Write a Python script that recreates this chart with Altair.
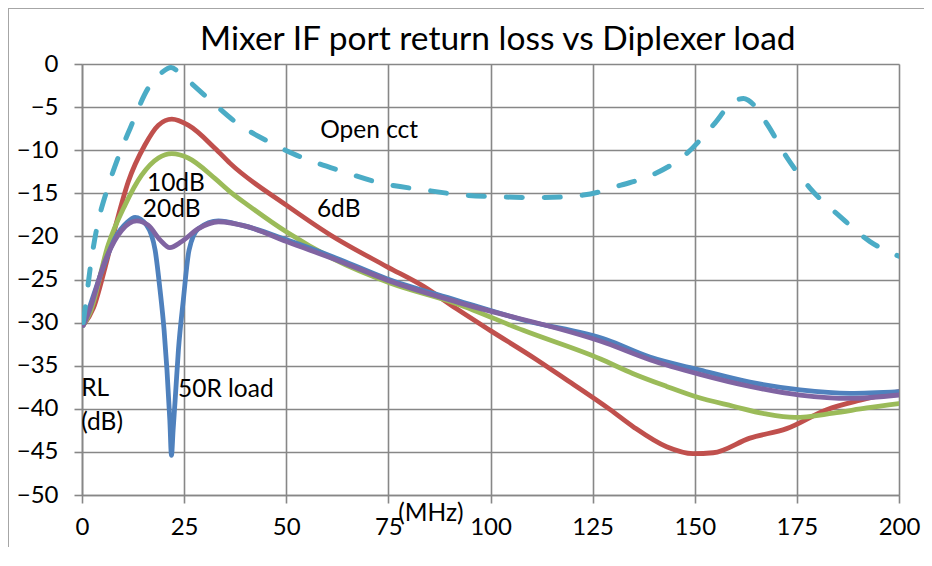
import altair as alt
import pandas as pd

# ---------------- data ----------------
open_x = [0.3, 1.0, 2.0, 3.6, 6.0, 8.5, 11.75, 16.2, 19.5, 21.8, 24.4, 30.9, 37.5, 45.6, 52.6,
          64.0, 73.0, 83.6, 93.3, 101.5, 112.1, 122.7, 128.4, 130.9, 139.5, 148.0, 154.5,
          159.4, 161.9, 163.1, 167.6, 172.5, 178.2, 185.6, 192.9, 200.0]
open_y = [-30.0, -27.5, -23.7, -19.1, -14.8, -11.3, -7.5, -2.8, -1.0, -0.4, -1.3, -4.0, -6.7,
          -9.0, -10.6, -12.5, -13.8, -14.6, -15.2, -15.4, -15.5, -15.2, -14.6, -14.2, -12.9,
          -10.4, -7.1, -4.4, -4.0, -4.2, -6.9, -10.8, -14.4, -17.7, -20.6, -22.3]

db6_x = [0.3, 2.8, 5.6, 8.5, 11.3, 15.4, 18.7, 22.0, 26.0, 32.6, 36.2, 50.1, 60.7, 74.6,
         83.6, 91.7, 99.9, 111.3, 118.5, 129.3, 135.0, 143.1, 149.6, 154.5, 163.5, 172.5,
         182.3, 190.5, 200.0]
db6_y = [-30.3, -28.3, -23.7, -18.3, -13.7, -9.4, -7.1, -6.4, -7.1, -9.8, -11.5, -16.4, -19.8,
         -23.5, -25.8, -28.4, -30.9, -34.3, -36.6, -40.1, -42.1, -44.4, -45.2, -45.1,
         -43.4, -42.3, -40.1, -39.0, -38.0]

db10_x = [0.3, 2.0, 6.4, 10.5, 14.6, 18.7, 22.0, 26.0, 32.6, 36.2, 40.7, 50.1, 61.5, 75.4,
          91.7, 108.0, 126.8, 134.8, 143.1, 150.3, 159.4, 167.4, 174.5, 183.9, 192.1, 200.0]
db10_y = [-30.3, -28.8, -21.0, -16.4, -12.9, -10.9, -10.4, -10.9, -13.3, -14.8, -16.4, -19.5,
          -22.6, -25.4, -27.8, -30.9, -34.2, -35.9, -37.4, -38.6, -39.7, -40.6, -41.0, -40.5,
          -39.9, -39.4]

r50_x = [0.3, 1.5, 4.8, 8.1, 11.0, 13.0, 15.8, 17.9, 19.1, 20.1, 20.8, 21.5, 21.9, 22.3, 22.8,
         23.6, 24.8, 26.2, 28.5, 33.4, 39.1, 50.1, 63.2, 74.6, 91.7, 108.0, 128.4, 139.0,
         151.3, 163.5, 175.8, 188.0, 200.0]
r50_y = [-30.3, -28.7, -24.1, -20.2, -18.4, -17.8, -18.7, -21.6, -26.2, -30.9, -35.5, -41.3,
         -45.4, -42.5, -39.0, -33.2, -27.4, -21.6, -19.1, -18.2, -18.7, -20.4, -22.7,
         -24.9, -27.4, -29.7, -32.0, -34.0, -35.5, -36.9, -37.8, -38.2, -38.0]

db20_x = [0.3, 1.5, 5.6, 9.7, 13.4, 16.2, 19.1, 21.5, 24.4, 28.5, 33.4, 40.7, 50.1, 63.2, 75.4,
          91.7, 128.4, 139.0, 151.3, 163.5, 175.8, 188.0, 200.0]
db20_y = [-30.3, -29.0, -22.9, -19.3, -18.2, -18.7, -20.4, -21.3, -20.6, -19.1, -18.3, -18.9,
          -20.6, -22.9, -25.2, -27.6, -32.4, -34.3, -36.0, -37.4, -38.4, -38.8, -38.4]

title_text = ["Mixer IF port return loss vs Diplexer load"]
title_x = [101.8]
title_y = [1.62]

label_text = ["Open cct", "10dB", "20dB", "6dB", "50R load", "RL", "(dB)", "(MHz)"]
label_x = [58.3, 15.9, 14.9, 57.5, 23.5, -0.2, -0.2, 77.4]
label_y = [-7.8, -13.9, -16.9, -16.9, -37.8, -37.7, -41.6, -52.2]

x_ticks = [0, 25, 50, 75, 100, 125, 150, 175, 200]
y_ticks = [0, -5, -10, -15, -20, -25, -30, -35, -40, -45, -50]

FONT = "Lato"
GRID = "#878787"

series = [
    ("6dB", db6_x, db6_y, "#C0504D"),
    ("10dB", db10_x, db10_y, "#9BBB59"),
    ("50R load", r50_x, r50_y, "#4F81BD"),
    ("20dB", db20_x, db20_y, "#8064A2"),
]

x_enc = alt.X("f:Q", scale=alt.Scale(domain=[0, 200], nice=False),
              axis=alt.Axis(values=x_ticks, title=None, grid=True, gridColor=GRID, gridWidth=1.6,
                            domainColor=GRID, domainWidth=1.6, tickColor=GRID, tickWidth=1.6,
                            tickSize=8, labelFont=FONT, labelFontSize=24, labelColor="black",
                            labelPadding=12, labelFlush=False))
y_enc = alt.Y("rl:Q", scale=alt.Scale(domain=[-50, 0], nice=False),
              axis=alt.Axis(values=y_ticks, title=None, grid=True, gridColor=GRID, gridWidth=1.6,
                            domainColor=GRID, domainWidth=1.6, tickColor=GRID, tickWidth=1.6,
                            tickSize=8, labelFont=FONT, labelFontSize=24, labelColor="black",
                            labelPadding=16, labelFlush=False))

layers = []

# chart frame (decoration, partly visible in the reference)
frame = alt.Chart(alt.Data(values=[{}]))
layers.append(frame.mark_rule(color="#A6A6A6", strokeWidth=1).encode(
    x=alt.value(-73.5), y=alt.value(-56), y2=alt.value(520)))
layers.append(frame.mark_rule(color="#A6A6A6", strokeWidth=1).encode(
    x=alt.value(-74), x2=alt.value(860), y=alt.value(-55.5)))

for name, xs, ys, col in series:
    df = pd.DataFrame({"f": xs, "rl": ys, "s": name, "o": range(len(xs))})
    layers.append(alt.Chart(df).mark_line(color=col, strokeWidth=4.8, interpolate="monotone",
                                          strokeCap="round", strokeJoin="round", clip=True).encode(
        x=x_enc, y=y_enc, order="o:Q"))

df_open = pd.DataFrame({"f": open_x, "rl": open_y, "s": "Open cct", "o": range(len(open_x))})
layers.append(alt.Chart(df_open).mark_line(color="#4BACC6", strokeWidth=5, interpolate="monotone",
                                           strokeDash=[16, 22], strokeCap="round", clip=True).encode(
    x=x_enc, y=y_enc, order="o:Q"))

df_lab = pd.DataFrame({"f": label_x, "rl": label_y, "t": label_text})
layers.append(alt.Chart(df_lab).mark_text(align="left", baseline="middle", font=FONT, fontSize=24.5,
                                          color="black").encode(
    x=alt.X("f:Q"), y=alt.Y("rl:Q"), text="t:N"))

df_title = pd.DataFrame({"f": title_x, "rl": title_y, "t": title_text})
layers.append(alt.Chart(df_title).mark_text(align="center", baseline="alphabetic", font=FONT,
                                            fontSize=33.5, color="black").encode(
    x=alt.X("f:Q"), y=alt.Y("rl:Q"), text="t:N"))

chart = alt.layer(*layers).properties(
    width=817, height=431,
    autosize=alt.AutoSizeParams(type="none"),
    padding={"left": 74, "top": 56, "right": 25, "bottom": 52},
).configure_view(stroke=None).configure(background="white")

chart.save("out.html", embed_options={"renderer": "svg", "actions": False})
